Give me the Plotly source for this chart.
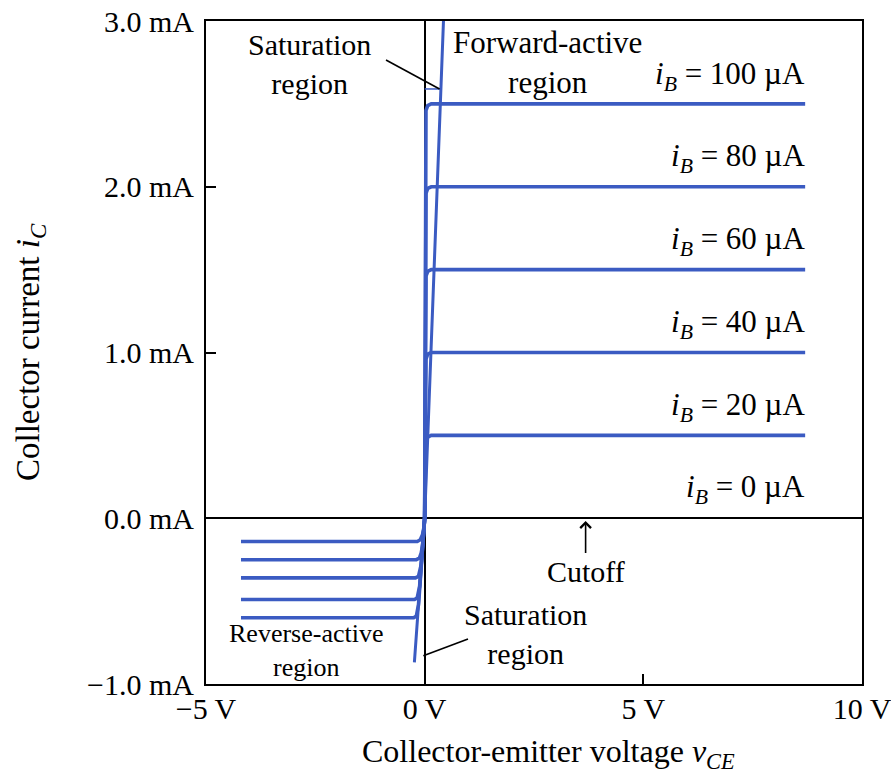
import plotly.graph_objects as go

# ---------------- data ----------------
ib_labels = ["100", "80", "60", "40", "20", "0"]
ic_levels = [2.5, 2.0, 1.5, 1.0, 0.5, 0.0]          # mA, forward-active plateaus (iB=0 -> axis)

# forward-active / saturation curves (shared voltage samples, one current list per iB)
vce_fwd = [0.0, 0.01, 0.03, 0.07, 0.15, 8.7]
ic_fwd_100 = [0.0, 2.38, 2.46, 2.49, 2.5, 2.5]
ic_fwd_80 = [0.0, 1.88, 1.96, 1.99, 2.0, 2.0]
ic_fwd_60 = [0.0, 1.38, 1.46, 1.49, 1.5, 1.5]
ic_fwd_40 = [0.0, 0.88, 0.96, 0.99, 1.0, 1.0]
ic_fwd_20 = [0.0, 0.38, 0.46, 0.49, 0.5, 0.5]

# reverse-active curves
vce_rev_1 = [-4.2, -0.17, -0.10, -0.05, -0.02, 0.0]
ic_rev_1 = [-0.14, -0.14, -0.13, -0.10, -0.06, 0.0]
vce_rev_2 = [-4.2, -0.19, -0.12, -0.08, -0.05, 0.0]
ic_rev_2 = [-0.25, -0.25, -0.24, -0.21, -0.17, 0.0]
vce_rev_3 = [-4.2, -0.21, -0.14, -0.11, -0.08, 0.0]
ic_rev_3 = [-0.36, -0.36, -0.35, -0.32, -0.28, 0.0]
vce_rev_4 = [-4.2, -0.23, -0.17, -0.14, -0.115, 0.0]
ic_rev_4 = [-0.49, -0.49, -0.48, -0.45, -0.41, 0.0]
vce_rev_5 = [-4.2, -0.25, -0.19, -0.16, -0.14, 0.0]
ic_rev_5 = [-0.60, -0.60, -0.59, -0.56, -0.52, 0.0]

# steep saturation line through the origin
vce_steep = [-0.235, 0.0, 0.43]
ic_steep = [-0.87, 0.0, 3.0]

# saturation marker segment
vce_mark = [0.0, 0.36]
ic_mark = [2.59, 2.59]

x_tick_vals = [-5, 0, 5, 10]
x_tick_text = ["\u22125 V", "0 V", "5 V", "10 V"]
y_tick_vals = [-1, 0, 1, 2, 3]
y_tick_text = ["\u22121.0 mA", "0.0 mA", "1.0 mA", "2.0 mA", "3.0 mA"]

# ---------------- layout geometry ----------------
W, H = 891, 776
ML, MR, MT, MB = 206, 29, 21, 92
PW, PH = W - ML - MR, H - MT - MB
XR, YR = (-5, 10), (-1, 3)


def px2x(px):
    return XR[0] + (px - ML) / PW * (XR[1] - XR[0])


def py2y(py):
    return YR[1] - (py - MT) / PH * (YR[1] - YR[0])


def pxp(px):
    return (px - ML) / PW


def pyp(py):
    return (H - MB - py) / PH


BLUE = "#3b5bc2"
FONT = "Liberation Serif, Times New Roman, serif"

fig = go.Figure()

line_style = dict(color=BLUE, width=3.6)
for ic in [ic_fwd_100, ic_fwd_80, ic_fwd_60, ic_fwd_40, ic_fwd_20]:
    fig.add_trace(go.Scatter(x=vce_fwd, y=ic, mode="lines", line=line_style,
                             hoverinfo="skip", showlegend=False))
for v, ic in [(vce_rev_1, ic_rev_1), (vce_rev_2, ic_rev_2), (vce_rev_3, ic_rev_3),
              (vce_rev_4, ic_rev_4), (vce_rev_5, ic_rev_5)]:
    fig.add_trace(go.Scatter(x=v, y=ic, mode="lines", line=line_style,
                             hoverinfo="skip", showlegend=False))
fig.add_trace(go.Scatter(x=vce_steep, y=ic_steep, mode="lines",
                         line=dict(color=BLUE, width=3), hoverinfo="skip",
                         showlegend=False, cliponaxis=True))
fig.add_trace(go.Scatter(x=vce_mark, y=ic_mark, mode="lines",
                         line=dict(color=BLUE, width=1.5), hoverinfo="skip",
                         showlegend=False))

# pointer lines
fig.add_shape(type="line", xref="x", yref="y", x0=px2x(386), y0=py2y(60),
              x1=0.34, y1=2.59, line=dict(color="black", width=1.6))
fig.add_shape(type="line", xref="x", yref="y", x0=px2x(468), y0=py2y(639),
              x1=-0.03, y1=-0.83, line=dict(color="black", width=1.6))

ann = []
# iB labels
label_py = [76, 158, 241, 324, 407, 489]
for lab, py in zip(ib_labels, label_py):
    ann.append(dict(text=f"<i>i</i><sub><i>B</i></sub> = {lab} \u00b5A", xref="paper", yref="paper",
                    x=pxp(807), y=pyp(py), xanchor="right", yanchor="middle",
                    showarrow=False, font=dict(size=31)))

ann.append(dict(text="Saturation<br>region", xref="paper", yref="paper", x=pxp(309), y=pyp(64),
                xanchor="center", yanchor="middle", showarrow=False, font=dict(size=30)))
ann.append(dict(text="Forward-active<br>region", xref="paper", yref="paper", x=pxp(547), y=pyp(62),
                xanchor="center", yanchor="middle", showarrow=False, font=dict(size=31)))
ann.append(dict(text="Saturation<br>region", xref="paper", yref="paper", x=pxp(525), y=pyp(634),
                xanchor="center", yanchor="middle", showarrow=False, font=dict(size=30)))
ann.append(dict(text="Reverse-active<br>region", xref="paper", yref="paper", x=pxp(306), y=pyp(650),
                xanchor="center", yanchor="middle", showarrow=False, font=dict(size=26)))
# Cutoff with arrow
ann.append(dict(text="Cutoff", xref="x", yref="y", x=3.68, y=py2y(521),
                ax=0, ay=50, showarrow=True, arrowhead=4, arrowsize=1.3, arrowwidth=1.6,
                arrowcolor="black", font=dict(size=30)))
# axis titles
ann.append(dict(text="Collector current <i>i</i><sub><i>C</i></sub>", xref="paper", yref="paper",
                x=pxp(30), y=pyp(352), textangle=-90, xanchor="center", yanchor="middle",
                showarrow=False, font=dict(size=33)))
ann.append(dict(text="Collector-emitter voltage <i>v</i><sub><i>CE</i></sub>", xref="paper",
                yref="paper", x=pxp(548), y=pyp(753), xanchor="center", yanchor="middle",
                showarrow=False, font=dict(size=32)))

axis_common = dict(showline=True, linecolor="black", linewidth=2, mirror=True,
                   showgrid=False, zeroline=True, zerolinecolor="black", zerolinewidth=2,
                   ticks="inside", ticklen=10, tickwidth=2, tickcolor="black",
                   automargin=False, ticklabeloverflow="allow",
                   tickfont=dict(size=30, color="black", family=FONT))

fig.update_layout(
    width=W, height=H,
    margin=dict(l=ML, r=MR, t=MT, b=MB, pad=0, autoexpand=False),
    paper_bgcolor="white", plot_bgcolor="white",
    font=dict(family=FONT, color="black"),
    xaxis=dict(range=list(XR), tickvals=x_tick_vals, ticktext=x_tick_text,
               ticklabelstandoff=-3, **axis_common),
    yaxis=dict(range=list(YR), tickvals=y_tick_vals, ticktext=y_tick_text,
               ticklabelstandoff=4, **axis_common),
    annotations=ann,
    showlegend=False,
)

fig.write_html("out.html", config={"displayModeBar": False},
               post_script="document.body.style.margin='0px';document.body.style.padding='0px';")
